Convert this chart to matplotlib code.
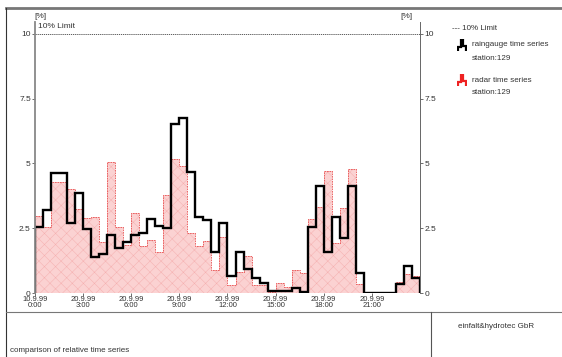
import matplotlib.pyplot as plt
import numpy as np
from matplotlib.lines import Line2D

plt.rcParams['font.family'] = ['Liberation Sans', 'DejaVu Sans']
plt.rcParams['hatch.linewidth'] = 0.35

W, H = 562, 357

# half-hourly relative values [%], 20.9.99 0:00 - 24:00
rain = [2.56, 3.2, 4.62, 4.62, 2.69, 3.87, 2.46, 1.4, 1.5, 2.24, 1.75, 1.98,
        2.24, 2.33, 2.84, 2.59, 2.5, 6.53, 6.74, 4.68, 2.95, 2.82, 1.6, 2.69,
        0.66, 1.6, 0.91, 0.57, 0.37, 0.09, 0.09, 0.09, 0.19, 0.05, 2.56, 4.13,
        1.6, 2.95, 2.11, 4.13, 0.79, 0.0, 0.0, 0.0, 0.0, 0.35, 1.04, 0.57]
radar = [2.97, 2.54, 4.27, 4.27, 4.0, 3.24, 2.88, 2.95, 1.98, 5.07, 2.56, 1.85,
         3.1, 1.81, 2.05, 1.6, 3.78, 5.16, 4.9, 2.3, 1.8, 2.0, 0.89, 2.17,
         0.31, 0.82, 1.43, 0.31, 0.3, 0.05, 0.37, 0.25, 0.89, 0.79, 2.84, 3.33,
         4.71, 1.92, 3.29, 4.77, 0.35, 0.0, 0.05, 0.0, 0.03, 0.44, 0.73, 0.64]
tick_hours = [0, 3, 6, 9, 12, 15, 18, 21]
tick_labels = ['10.9.99\n0:00', '20.9.99\n3:00', '20.9.99\n6:00', '20.9.99\n9:00',
               '20.9.99\n12:00', '20.9.99\n15:00', '20.9.99\n18:00', '20.9.99\n21:00']
yticks = [0, 2.5, 5, 7.5, 10]
ytick_labels = ['0', '2.5', '5', '7.5', '10']
limit = 10

edges = np.arange(len(rain) + 1) * 0.5

fig = plt.figure(figsize=(W / 100, H / 100), dpi=100)


def fx(px):
    return px / W


def fy(py):
    return 1 - py / H


ax = fig.add_axes([fx(35), fy(293), fx(385), (293 - 22) / H])

# radar: pink hatched fill with dashed red outline
ax.stairs(radar, edges, baseline=0, fill=True, facecolor='#fbd2d2',
          edgecolor='#f5b0b0', hatch='xxx', linewidth=0)
ax.stairs(radar, edges, baseline=0, color='#e85050',
          linestyle=(0, (2, 1)), linewidth=0.6)
# raingauge: black step outline
ax.stairs(rain, edges, baseline=0, color='black', linewidth=1.7)

ax.axhline(limit, color='#444444', linestyle=(0, (1.5, 1)), linewidth=0.6)

ax.set_xlim(0, 24)
ax.set_ylim(0, 10.46)
ax.set_xticks(tick_hours)
ax.set_xticklabels(tick_labels, fontsize=5.5, color='#333333', linespacing=0.8)
ax.set_yticks(yticks)
ax.set_yticklabels(ytick_labels, fontsize=6, color='#333333')
ax.tick_params(axis='y', left=True, right=True, labelright=True, length=2,
               width=0.6, pad=1, colors='#555555', labelcolor='#333333')
ax.tick_params(axis='x', length=2, width=0.6, pad=0.5, colors='#555555',
               labelcolor='#333333')
for s in ['top', 'bottom']:
    ax.spines[s].set_visible(False)
ax.spines['left'].set_color('#888888')
ax.spines['left'].set_linewidth(1.3)
ax.spines['right'].set_color('#666666')
ax.spines['right'].set_linewidth(0.7)

fig.text(fx(34), fy(16), '[%]', fontsize=6, color='#333333', va='center')
fig.text(fx(38), fy(26), '10% Limit', fontsize=6, color='#333333', va='center')
fig.text(fx(400), fy(16), '[%]', fontsize=6, color='#333333', va='center')

# legend
fig.text(fx(452), fy(28), '--- 10% Limit', fontsize=5.8, color='#333333', va='center')
fig.text(fx(472), fy(45), 'raingauge time series', fontsize=5.8, color='#333333', va='center')
fig.text(fx(472), fy(58), 'station:129', fontsize=5.8, color='#333333', va='center')
fig.text(fx(472), fy(80), 'radar time series', fontsize=5.8, color='#333333', va='center')
fig.text(fx(472), fy(93), 'station:129', fontsize=5.8, color='#333333', va='center')
for py, col in [(45, 'black'), (80, '#ee2222')]:
    ia = fig.add_axes([fx(457), fy(py + 6), fx(10), 12 / H])
    ia.stairs([1, 3, 1.5], [0, 1, 2, 3], baseline=0, color=col, linewidth=1.6)
    ia.set_xlim(-0.3, 3.3)
    ia.set_ylim(0, 3.4)
    ia.axis('off')

# frame lines
fig.add_artist(Line2D([fx(6), 1], [fy(8), fy(8)], color='#777777', linewidth=2))
fig.add_artist(Line2D([fx(6), fx(6)], [fy(8), 0], color='#333333', linewidth=0.8))
fig.add_artist(Line2D([fx(6), 1], [fy(312), fy(312)], color='#777777', linewidth=0.8))
fig.add_artist(Line2D([fx(431), fx(431)], [fy(312), 0], color='#555555', linewidth=0.8))

fig.text(fx(10), fy(350), 'comparison of relative time series', fontsize=5.8,
         color='#333333', va='center')
fig.text(fx(458), fy(326), 'einfalt&hydrotec GbR', fontsize=5.8,
         color='#333333', va='center')

fig.savefig('out.png', dpi=100)
